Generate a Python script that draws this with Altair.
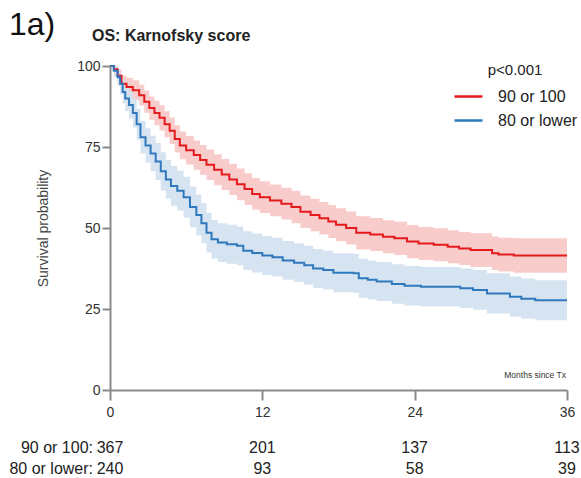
import altair as alt
import pandas as pd

FONT = "Liberation Sans"

groups = ["90 or 100", "80 or lower"]
line_colors = ["#E41A1C", "#2F78BE"]
band_colors = ["#F8C6C7", "#D1E1F1"]

# Kaplan-Meier estimates (months since Tx, survival %) with 95% CI
hi_months = [0, 0.3, 0.6, 0.9, 1.3, 1.8, 2.3, 2.7, 3.1, 3.5, 3.9, 4.3, 4.7, 5.1, 5.5,
             6.0, 6.6, 7.1, 7.6, 8.2, 8.8, 9.4, 10.0, 10.6, 11.2, 11.8, 12.6, 13.5,
             14.3, 15.0, 15.8, 16.5, 17.2, 17.8, 18.6, 19.4, 20.5, 21.5, 22.4, 23.4,
             24.3, 25.5, 26.6, 27.5, 28.4, 30.1, 30.6, 31.8, 36]
hi_surv = [100, 99, 97, 94.5, 93.5, 92.5, 91, 89, 87, 85.5, 84, 82, 80, 77.5, 75.5,
           74, 72.5, 71, 69.5, 68, 66.5, 65, 63.5, 62, 60.5, 59.5, 58.5, 57.5,
           56.5, 55, 54, 53, 52, 51, 50, 48.5, 48, 47.3, 46.8, 45.8,
           45.2, 44.8, 44.2, 43.7, 43.2, 42.2, 41.8, 41.5, 41.5]
hi_lower = [100, 97.6, 95, 92, 90.6, 89.4, 87.8, 85.6, 83.4, 81.7, 80.1, 78, 75.9,
            73.3, 71.2, 69.6, 68, 66.4, 64.8, 63.2, 61.7, 60.2, 58.6, 57.1, 55.6,
            54.6, 53.6, 52.6, 51.5, 50, 49, 48, 46.9, 45.9, 44.9, 43.4, 42.9, 42.2,
            41.7, 40.7, 40.1, 39.7, 39.1, 38.6, 38, 37, 36.6, 36.2, 36.2]
hi_upper = [100, 100, 99, 97, 96.4, 95.6, 94.2, 92.4, 90.6, 89.3, 87.9, 86, 84.1,
            81.7, 79.8, 78.4, 77, 75.6, 74.2, 72.8, 71.3, 69.8, 68.4, 66.9, 65.4,
            64.4, 63.4, 62.4, 61.5, 60, 59, 58, 57.1, 56.1, 55.1, 53.6, 53.1, 52.4,
            51.9, 50.9, 50.3, 49.9, 49.3, 48.8, 48.4, 47.4, 47, 46.8, 46.8]

lo_months = [0, 0.3, 0.6, 0.8, 1.0, 1.2, 1.5, 1.8, 2.1, 2.4, 2.8, 3.2, 3.6, 4.0, 4.4,
             4.8, 5.3, 5.8, 6.3, 6.8, 7.2, 7.6, 8.0, 8.5, 9.2, 10.0, 10.5, 11.2, 12.0,
             12.8, 13.6, 14.5, 15.3, 16.0, 16.8, 17.6, 19.2, 19.6, 20.3, 21.0, 22.2,
             23.2, 24.5, 27.6, 28.6, 29.7, 31.5, 32.4, 33.5, 36]
lo_surv = [100, 98.5, 96.5, 94.5, 92, 90, 88, 85.5, 82, 78, 75.5, 73, 70.5, 67.5, 65,
           63, 61.5, 59.5, 56.5, 54, 51.5, 48.5, 46.5, 45.5, 45, 44.5, 43, 42.3, 41.5,
           41, 40, 39.3, 38.5, 37.5, 37, 36.2, 36, 34.5, 34, 33.5, 32.7,
           32.2, 31.9, 31.4, 30.9, 29.8, 28.8, 28.2, 27.7, 27.7]
lo_lower = [100, 96.6, 93.8, 91.3, 88.4, 86.1, 83.8, 81, 77.2, 73, 70.2, 67.5, 64.8,
            61.6, 59, 56.9, 55.3, 53.2, 50.2, 47.7, 45.3, 42.4, 40.5, 39.5, 39, 38.5,
            37, 36.3, 35.5, 35, 34, 33.3, 32.5, 31.5, 31, 30.2, 30, 28.5, 28, 27.5,
            26.6, 26.1, 25.8, 25.3, 24.8, 23.6, 22.6, 22, 21.5, 21.5]
lo_upper = [100, 100, 99.2, 97.7, 95.6, 93.9, 92.2, 90, 86.8, 83, 80.8, 78.5, 76.2,
            73.4, 71, 69.1, 67.7, 65.8, 62.8, 60.3, 57.7, 54.6, 52.5, 51.5, 51, 50.5,
            49, 48.3, 47.5, 47, 46, 45.3, 44.5, 43.5, 43, 42.2, 42, 40.5, 40, 39.5,
            38.8, 38.3, 38, 37.5, 37, 36, 35, 34.4, 33.9, 33.9]

# Numbers at risk
risk_months = [0, 12, 24, 36]
risk_hi = [367, 201, 137, 113]
risk_lo = [240, 93, 58, 39]
risk_labels = ["90 or 100:", "80 or lower:"]

km = pd.concat([
    pd.DataFrame({"month": hi_months, "surv": hi_surv, "lower": hi_lower,
                  "upper": hi_upper, "group": groups[0]}),
    pd.DataFrame({"month": lo_months, "surv": lo_surv, "lower": lo_lower,
                  "upper": lo_upper, "group": groups[1]}),
])

x_scale = alt.Scale(domain=[0, 36], nice=False, zero=False)
y_scale = alt.Scale(domain=[0, 100], nice=False)

x_axis = alt.Axis(values=risk_months, title="", tickSize=10, labelPadding=5,
                  labelFontSize=14, labelColor="#333333", labelFont=FONT,
                  labelFlush=False, domainColor="#8a8a8a", domainWidth=2,
                  tickColor="#8a8a8a", tickWidth=2, grid=False)
y_axis = alt.Axis(values=[0, 25, 50, 75, 100], title="Survival probability",
                  tickSize=8, labelPadding=2, labelFontSize=14,
                  labelColor="#333333", labelFont=FONT, titleFont=FONT,
                  titleFontSize=14, titleFontWeight="normal", titleColor="#444444",
                  titlePadding=26, domainColor="#8a8a8a", domainWidth=2,
                  tickColor="#8a8a8a", tickWidth=2, grid=False)

bands = alt.Chart(km).mark_area(interpolate="step-after", opacity=0.9).encode(
    x=alt.X("month:Q", scale=x_scale, axis=x_axis),
    y=alt.Y("lower:Q", scale=y_scale, axis=y_axis),
    y2="upper:Q",
    color=alt.Color("group:N", scale=alt.Scale(domain=groups, range=band_colors),
                    legend=None),
)

curves = alt.Chart(km).mark_line(interpolate="step-after", strokeWidth=2).encode(
    x=alt.X("month:Q", scale=x_scale),
    y=alt.Y("surv:Q", scale=y_scale),
    color=alt.Color(
        "group:N",
        scale=alt.Scale(domain=groups, range=line_colors),
        legend=alt.Legend(
            title="p<0.001", orient="none", legendX=343, legendY=-3,
            symbolType="stroke", symbolSize=784, symbolStrokeWidth=2.5,
            labelFontSize=16, labelFont=FONT, labelColor="#222222",
            labelOffset=14, labelLimit=200, titleFontSize=15, titleFont=FONT,
            titleFontWeight="normal", titleColor="#222222",
            titleAnchor="middle", titlePadding=3, rowPadding=-4, padding=0,
        ),
    ),
)


def risk_row(values, label, ypix):
    """One row of the numbers-at-risk table, placed below the x axis."""
    df = pd.DataFrame({"month": risk_months, "n": [str(v) for v in values]})
    nums = alt.Chart(df).mark_text(fontSize=16, font=FONT, color="#222222",
                                   align="center", baseline="middle").encode(
        x=alt.X("month:Q", scale=x_scale), y=alt.value(ypix), text="n:N")
    name = alt.Chart().mark_text(text=label, fontSize=16, font=FONT,
                                 color="#222222", align="right",
                                 baseline="middle").encode(
        x=alt.value(-17), y=alt.value(ypix))
    return [nums, name]


panel = alt.Chart().mark_text(text="1a)", fontSize=32, font=FONT, color="#111111",
                              align="left", baseline="alphabetic").encode(
    x=alt.value(-101), y=alt.value(-31))
heading = alt.Chart().mark_text(text="OS: Karnofsky score", fontSize=16,
                                fontWeight="bold", font=FONT, color="#222222",
                                align="left", baseline="alphabetic").encode(
    x=alt.value(-18), y=alt.value(-25))
xlab = alt.Chart().mark_text(text="Months since Tx", fontSize=8.5, font=FONT,
                             color="#333333", align="right",
                             baseline="middle").encode(
    x=alt.value(456), y=alt.value(309))

layers = [bands, curves] + risk_row(risk_hi, risk_labels[0], 382) \
    + risk_row(risk_lo, risk_labels[1], 403) + [panel, heading, xlab]

chart = alt.layer(*layers).resolve_scale(color="independent").properties(
    width=457, height=324,
    autosize=alt.AutoSizeParams(type="none"),
    padding={"left": 110, "top": 66, "right": 14, "bottom": 88},
).configure_view(strokeWidth=0)

chart.save("out.html", embed_options={"renderer": "svg", "actions": False})
